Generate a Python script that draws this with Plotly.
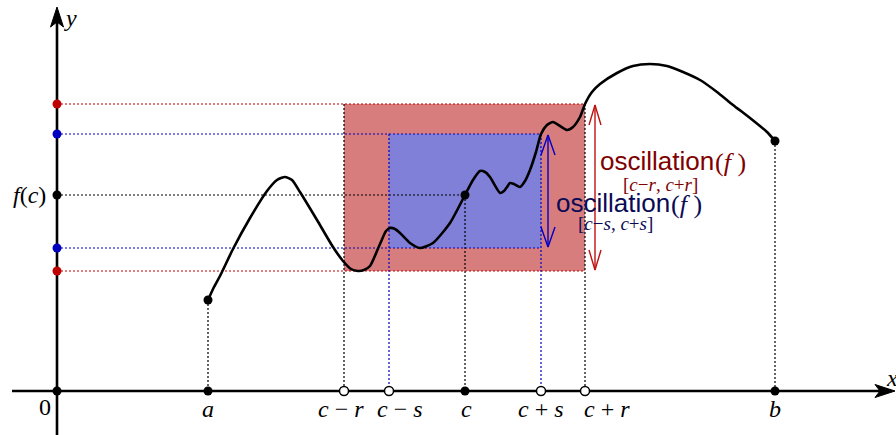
import plotly.graph_objects as go

# ---------------- data (diagram units, origin = axes crossing) ----------------
curve_x = [151, 157, 163, 176, 193, 210, 220, 228, 235, 243, 260, 276, 286, 294, 301,
           307, 313, 323, 329, 333, 338, 343, 353, 363, 376, 393, 408, 416, 423, 428,
           433, 443, 447, 450, 453, 457, 463, 468, 473, 479, 484, 490, 496, 503, 510,
           516, 523, 528, 535, 543, 560, 576, 593, 610, 626, 643, 660, 676, 693, 710, 718]
curve_y = [91, 104, 115, 142, 173, 200, 211, 214, 211, 199, 171, 144, 130, 122, 120,
           121, 125, 147, 160, 163, 162, 158, 148, 143, 148, 168, 196, 211, 220, 219,
           214, 198, 200, 204, 208, 207, 204, 210, 221, 239, 257, 266, 269, 265, 261,
           264, 274, 287, 299, 307, 318, 325, 327, 325, 319, 311, 299, 286, 273, 259, 250]

a_x, c_x, b_x = 151, 408, 718
c_minus_r, c_minus_s, c_plus_s, c_plus_r = 287, 332, 484, 528
f_a, f_c, f_b = 91, 196, 250
red_min, red_max = 120, 287
blue_min, blue_max = 143, 257

tick_labels = ["<i>a</i>", "<i>c</i> − <i>r</i>", "<i>c</i> − <i>s</i>", "<i>c</i>",
               "<i>c</i> + <i>s</i>", "<i>c</i> + <i>r</i>", "<i>b</i>"]
tick_label_x = [151, 284, 343, 409, 484, 550, 718]

x_axis_ext = (-45, 838)
y_axis_ext = (-44, 384)

# ---------------- styles ----------------
RED_FILL = "#d87d7d"
BLUE_FILL = "#8080d8"
RED_LINE = "#c00000"
BLUE_LINE = "#0000c0"
RED_TEXT = "#800000"
BLUE_TEXT = "#0a0a55"
MATH_FONT = "Liberation Serif"
SANS_FONT = "Liberation Sans"
DOT = "2px,2px"

fig = go.Figure()

# rectangles
fig.add_shape(type="rect", x0=c_minus_r, x1=c_plus_r, y0=red_min, y1=red_max,
              fillcolor=RED_FILL, line_width=0, layer="below")
fig.add_shape(type="rect", x0=c_minus_s, x1=c_plus_s, y0=blue_min, y1=blue_max,
              fillcolor=BLUE_FILL, line_width=0, layer="below")

def seg_trace(xs, ys, color, width=1.2, dash=DOT):
    return go.Scatter(x=xs, y=ys, mode="lines", line=dict(color=color, width=width, dash=dash),
                      hoverinfo="skip")

# black dotted guides
bx, by = [], []
for (x0, y0, x1, y1) in [(0, f_c, c_x, f_c), (a_x, f_a, a_x, 0), (c_minus_r, red_max, c_minus_r, 0),
                         (c_plus_r, red_max, c_plus_r, 0), (c_x, f_c, c_x, 0), (b_x, f_b, b_x, 0)]:
    bx += [x0, x1, None]
    by += [y0, y1, None]
fig.add_trace(seg_trace(bx, by, "black"))

# blue dotted guides
ux, uy = [], []
for (x0, y0, x1, y1) in [(0, blue_max, c_plus_s, blue_max), (0, blue_min, c_plus_s, blue_min),
                         (c_minus_s, blue_max, c_minus_s, 0), (c_plus_s, blue_max, c_plus_s, 0)]:
    ux += [x0, x1, None]
    uy += [y0, y1, None]
fig.add_trace(seg_trace(ux, uy, BLUE_LINE))

# red dotted guides
rx, ry = [], []
for yv in (red_max, red_min):
    rx += [0, c_plus_r, None]
    ry += [yv, yv, None]
fig.add_trace(seg_trace(rx, ry, RED_LINE))

# axes
fig.add_trace(seg_trace([x_axis_ext[0], x_axis_ext[1] - 10], [0, 0], "black", 2.6, "solid"))
fig.add_trace(seg_trace([0, 0], [y_axis_ext[0], y_axis_ext[1] - 10], "black", 2.6, "solid"))
HL, HW, HN = 20, 6.5, 15
fig.add_trace(go.Scatter(
    x=[x_axis_ext[1], x_axis_ext[1] - HL, x_axis_ext[1] - HN, x_axis_ext[1] - HL, x_axis_ext[1]],
    y=[0, HW, 0, -HW, 0], mode="lines", fill="toself", fillcolor="black",
    line=dict(color="black", width=1), hoverinfo="skip"))
fig.add_trace(go.Scatter(
    x=[0, HW, 0, -HW, 0],
    y=[y_axis_ext[1], y_axis_ext[1] - HL, y_axis_ext[1] - HN, y_axis_ext[1] - HL, y_axis_ext[1]],
    mode="lines", fill="toself", fillcolor="black",
    line=dict(color="black", width=1), hoverinfo="skip"))

# curve
fig.add_trace(go.Scatter(x=curve_x, y=curve_y, mode="lines",
                         line=dict(color="black", width=2.6, shape="spline", smoothing=0.6),
                         hoverinfo="skip"))

# double arrows (open chevrons)
def double_arrow(xc, y0, y1, color, al=20, aw=6):
    xs = [xc, xc, None, xc - aw, xc, xc + aw, None, xc - aw, xc, xc + aw]
    ys = [y0, y1, None, y1 - al, y1, y1 - al, None, y0 + al, y0, y0 + al]
    return go.Scatter(x=xs, y=ys, mode="lines", line=dict(color=color, width=1.4),
                      hoverinfo="skip")

fig.add_trace(double_arrow(c_plus_r + 10, red_min + 1, red_max - 1, "#c01010"))
fig.add_trace(double_arrow(c_plus_s + 7, blue_min + 1, blue_max - 1, "#0000c8", aw=7))

# markers on y-axis
fig.add_trace(go.Scatter(x=[0, 0, 0, 0, 0, 0], y=[red_max, red_min, blue_max, blue_min, f_c, 0],
                         mode="markers",
                         marker=dict(size=9, color=["#c00000", "#c00000", "#0000c0", "#0000c0",
                                                    "black", "black"]),
                         hoverinfo="skip"))
# markers on x-axis
fig.add_trace(go.Scatter(x=[a_x, c_x, b_x], y=[0, 0, 0], mode="markers",
                         marker=dict(size=9, color="black"), hoverinfo="skip"))
fig.add_trace(go.Scatter(x=[c_minus_r, c_minus_s, c_plus_s, c_plus_r], y=[0, 0, 0, 0],
                         mode="markers",
                         marker=dict(size=9, color="white", line=dict(color="black", width=1.5)),
                         hoverinfo="skip"))
# markers on curve
fig.add_trace(go.Scatter(x=[a_x, c_x, b_x], y=[f_a, f_c, f_b], mode="markers",
                         marker=dict(size=9, color="black"), hoverinfo="skip"))

# text
mfont = dict(family=MATH_FONT, size=24, color="black")
for lx, lt in zip(tick_label_x, tick_labels):
    fig.add_annotation(x=lx, y=-18, text=lt, showarrow=False, font=mfont,
                       xanchor="center", yanchor="middle")
fig.add_annotation(x=-12, y=-16, text="0", showarrow=False, font=mfont)
fig.add_annotation(x=-9, y=f_c, text="<i>f</i>(<i>c</i>)", showarrow=False, font=mfont,
                   xanchor="right", yanchor="middle")
fig.add_annotation(x=13, y=373, text="<i>y</i>", showarrow=False, font=mfont)
fig.add_annotation(x=835, y=13, text="<i>x</i>", showarrow=False, font=mfont)

def osc_label(x_left, y_mid, sub_x, sub_y, sub_text, color):
    fig.add_annotation(x=x_left, y=y_mid, text="oscillation", showarrow=False,
                       font=dict(family=SANS_FONT, size=26, color=color),
                       xanchor="left", yanchor="middle")
    fig.add_annotation(x=x_left + 115, y=y_mid - 1, text="(<i>f</i> )", showarrow=False,
                       font=dict(family=MATH_FONT, size=26, color=color),
                       xanchor="left", yanchor="middle")
    fig.add_annotation(x=sub_x, y=sub_y, text=sub_text, showarrow=False,
                       font=dict(family=MATH_FONT, size=19, color=color))

osc_label(541, 230, 603, 207, "[<i>c</i>−<i>r</i>, <i>c</i>+<i>r</i>]", RED_TEXT)
osc_label(497, 188, 558, 168, "[<i>c</i>−<i>s</i>, <i>c</i>+<i>s</i>]", BLUE_TEXT)

fig.update_layout(
    width=896, height=435, margin=dict(l=0, r=0, t=0, b=0),
    paper_bgcolor="white", plot_bgcolor="white", showlegend=False,
    xaxis=dict(range=[-57, 839], visible=False, fixedrange=True),
    yaxis=dict(range=[-44, 391], visible=False, fixedrange=True),
)

fig.write_html("out.html", config={"displayModeBar": False},
               post_script="document.body.style.margin='0';")
